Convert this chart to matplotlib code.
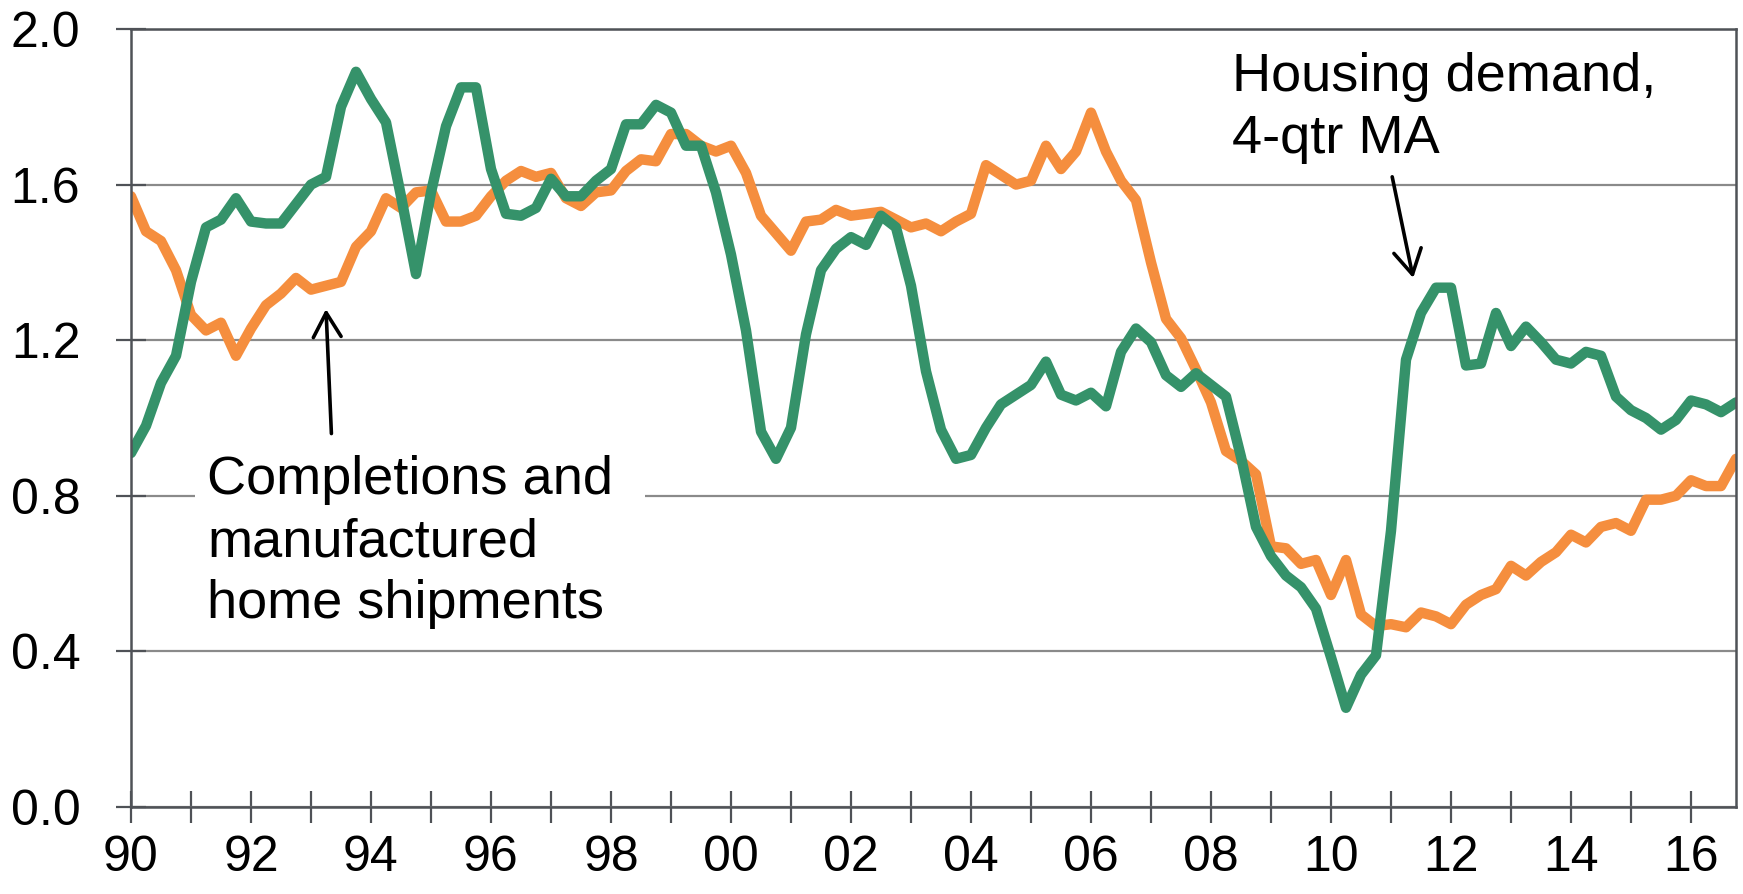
import matplotlib
matplotlib.use("Agg")
import matplotlib.pyplot as plt
from matplotlib.patches import Rectangle
import numpy as np

plt.rcParams['font.family'] = ['Liberation Sans', 'DejaVu Sans']

# Quarterly data, 1990Q1 .. 2016Q4
start_year = 1990
housing_demand = [
    0.91, 0.98, 1.09, 1.16, 1.35, 1.49, 1.51, 1.565, 1.505, 1.50,
    1.50, 1.55, 1.60, 1.62, 1.80, 1.89, 1.82, 1.76, 1.57, 1.37,
    1.58, 1.75, 1.85, 1.85, 1.64, 1.525, 1.52, 1.54, 1.615, 1.57,
    1.57, 1.61, 1.64, 1.755, 1.755, 1.805, 1.785, 1.70, 1.70, 1.58,
    1.42, 1.225, 0.965, 0.895, 0.975, 1.215, 1.38, 1.435, 1.465, 1.445,
    1.52, 1.49, 1.34, 1.12, 0.97, 0.895, 0.905, 0.975, 1.035, 1.06,
    1.085, 1.145, 1.06, 1.045, 1.065, 1.03, 1.17, 1.23, 1.195, 1.11,
    1.08, 1.115, 1.085, 1.055, 0.90, 0.72, 0.645, 0.595, 0.565, 0.51,
    0.385, 0.255, 0.34, 0.39, 0.71, 1.15, 1.27, 1.335, 1.335, 1.135,
    1.14, 1.27, 1.185, 1.235, 1.195, 1.15, 1.14, 1.17, 1.16, 1.055,
    1.02, 1.00, 0.97, 0.995, 1.045, 1.035, 1.015, 1.04,
]
completions = [
    1.57, 1.48, 1.455, 1.38, 1.265, 1.225, 1.245, 1.16, 1.23, 1.29,
    1.32, 1.36, 1.33, 1.34, 1.35, 1.44, 1.48, 1.565, 1.54, 1.58,
    1.585, 1.505, 1.505, 1.52, 1.57, 1.61, 1.635, 1.62, 1.63, 1.565,
    1.545, 1.58, 1.585, 1.635, 1.665, 1.66, 1.73, 1.73, 1.70, 1.685,
    1.70, 1.63, 1.52, 1.475, 1.43, 1.505, 1.51, 1.535, 1.52, 1.525,
    1.53, 1.51, 1.49, 1.50, 1.48, 1.505, 1.525, 1.65, 1.625, 1.60,
    1.61, 1.70, 1.64, 1.685, 1.785, 1.685, 1.61, 1.56, 1.40, 1.255,
    1.205, 1.125, 1.04, 0.915, 0.89, 0.855, 0.67, 0.665, 0.625, 0.635,
    0.545, 0.635, 0.495, 0.465, 0.47, 0.462, 0.50, 0.49, 0.47, 0.52,
    0.545, 0.56, 0.62, 0.595, 0.63, 0.655, 0.70, 0.68, 0.72, 0.73,
    0.71, 0.79, 0.79, 0.80, 0.84, 0.825, 0.825, 0.895,
]
year_ticks = list(range(1990, 2017))
year_labels = [f"{y % 100:02d}" if y % 2 == 0 else "" for y in year_ticks]
y_ticks = [0.0, 0.4, 0.8, 1.2, 1.6, 2.0]
y_labels = ["0.0", "0.4", "0.8", "1.2", "1.6", "2.0"]

x = start_year + np.arange(len(housing_demand)) / 4.0

GREEN = '#35926a'
ORANGE = '#f58e3e'
SPINE = '#4f5257'
GRID = '#8a8a8a'

fig = plt.figure(figsize=(17.43, 8.94), dpi=100)
ax = fig.add_axes([131 / 1743, 87 / 894, 1605 / 1743, 778 / 894])

ax.plot(x, completions, color=ORANGE, lw=7.5, solid_joinstyle='round',
        solid_capstyle='round', zorder=3)
ax.plot(x, housing_demand, color=GREEN, lw=7.5, solid_joinstyle='round',
        solid_capstyle='round', zorder=4)

ax.set_xlim(1990, 2016.75)
ax.set_ylim(0, 2.0)
ax.set_xticks(year_ticks)
ax.set_xticklabels(year_labels)
ax.set_yticks(y_ticks)
ax.set_yticklabels(y_labels)

ax.yaxis.grid(True, color=GRID, lw=1.6, zorder=0)
ax.set_axisbelow(True)
for s in ax.spines.values():
    s.set_color(SPINE)
    s.set_linewidth(1.8)
    s.set_zorder(5)

ax.tick_params(axis='x', direction='inout', length=23, width=1.6, color=SPINE,
               labelsize=36, pad=9)
ax.tick_params(axis='y', direction='inout', length=21, width=1.6, color=SPINE,
               labelsize=36, pad=26)

# white box behind the completions label (breaks the 0.8 gridline)
ax.add_patch(Rectangle((1991.07, 0.45), 7.5, 0.5, facecolor='white',
                       edgecolor='none', zorder=1))

ax.text(1991.27, 0.905, "Completions and\nmanufactured\nhome shipments",
        fontsize=39, va='top', ha='left', color='black', zorder=6,
        linespacing=1.31)
ax.text(2008.35, 1.94, "Housing demand,\n4-qtr MA",
        fontsize=39, va='top', ha='left', color='black', zorder=6,
        linespacing=1.31)

arrow = dict(arrowstyle='->,head_length=0.7,head_width=0.4', mutation_scale=25,
             lw=2.6, color='black', shrinkA=0, shrinkB=0)
ax.annotate('', xy=(1993.25, 1.28), xytext=(1993.34, 0.96), arrowprops=arrow, zorder=6)
ax.annotate('', xy=(2011.37, 1.36), xytext=(2011.02, 1.62), arrowprops=arrow, zorder=6)

fig.savefig('out.png', dpi=100)
